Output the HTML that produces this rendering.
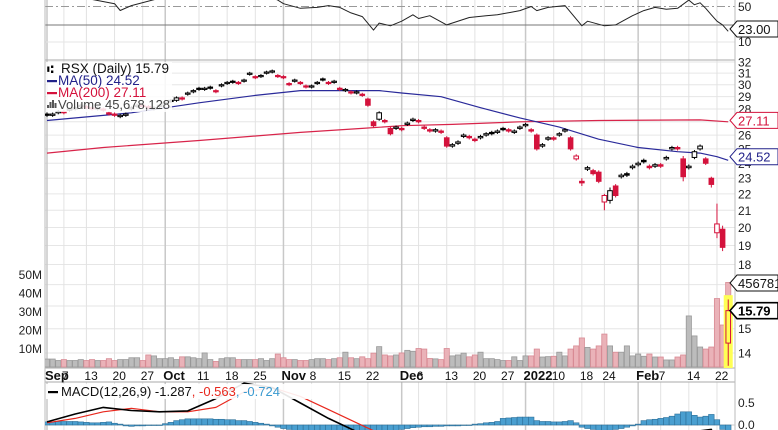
<!DOCTYPE html>
<html><head><meta charset="utf-8">
<style>
html,body{margin:0;padding:0;background:#fff;width:778px;height:430px;overflow:hidden;}
svg{display:block;font-family:"Liberation Sans",sans-serif;}
</style></head>
<body>
<svg id="chart" width="778" height="430" viewBox="0 0 778 430">
<defs>
<clipPath id="cpMain"><rect x="45" y="60" width="690" height="308"/></clipPath>
<clipPath id="cpRsi"><rect x="45" y="0" width="690" height="60"/></clipPath>
<clipPath id="cpMacd"><rect x="45" y="382" width="690" height="48"/></clipPath>
<clipPath id="cpAll"><rect x="0" y="0" width="778" height="430"/></clipPath>
</defs>
<g clip-path="url(#cpAll)">
<g id="grid"></g>
<g id="vol" clip-path="url(#cpMain)"></g>
<g id="ma" clip-path="url(#cpMain)"></g>
<g id="candles" clip-path="url(#cpMain)"></g>
<g id="rsi" clip-path="url(#cpRsi)"></g>
<g id="macd" clip-path="url(#cpMacd)"></g>
<g id="axes"></g>
<g id="legend"></g>
</g>
</svg>
<script>
// ---- data ----
const dateLabels = ["Sep","7","13","20","27","Oct","11","18","25","Nov","8","15","22","Dec","6","13","20","27","2022","10","18","24","Feb","7","14","22"];
const dateIdx = [0,3,7,12,17,21,27,32,37,42,47,52,57,63,66,71,76,81,85,90,95,99,105,109,114,119];
const monthFlags = [1,0,0,0,0,1,0,0,0,1,0,0,0,1,0,0,0,0,1,0,0,0,1,0,0,0];
const closes = [27.5,27.6,27.8,27.7,28.0,28.1,28.2,28.1,28.0,28.0,
27.9,27.6,27.5,27.5,27.6,28.1,28.3,28.2,28.1,28.1,
28.3,28.5,28.6,28.9,28.8,29.3,29.5,29.6,29.7,29.7,
29.4,30.0,30.2,30.2,30.1,30.4,31.0,30.6,30.8,31.1,
31.2,30.7,30.6,30.0,30.4,30.1,29.8,29.9,30.2,30.4,
30.1,30.3,29.6,29.6,29.3,29.4,29.1,28.3,26.7,27.7,
27.0,26.1,26.6,26.4,26.9,27.2,27.0,26.5,26.3,26.4,
26.2,25.2,25.3,25.5,26.0,25.8,25.6,25.9,26.1,26.1,
26.3,26.4,26.3,26.3,26.6,26.8,26.3,25.0,25.3,25.8,
25.7,26.1,26.4,25.0,24.5,22.7,23.7,23.3,22.8,21.9,
22.2,21.9,23.2,23.2,23.8,24.0,24.1,23.7,23.9,23.8,
24.4,25.1,25.0,23.1,23.8,24.8,25.2,24.0,22.6,20.2,
18.9,15.79];
const opens = [27.6,27.5,27.7,27.8,27.9,28.0,28.3,28.2,28.1,28.1,
28.0,27.7,27.6,27.4,27.5,28.0,28.2,28.3,28.2,28.0,
28.2,28.4,28.7,28.7,28.9,29.2,29.4,29.7,29.6,29.8,
29.5,29.9,30.1,30.3,30.2,30.3,30.9,30.7,30.7,31.0,
31.1,30.8,30.7,30.1,30.3,30.2,29.9,29.8,30.1,30.5,
30.2,30.2,29.7,29.5,29.4,29.3,29.2,28.8,27.0,27.2,
27.1,26.5,26.5,26.5,26.8,27.1,27.1,26.6,26.4,26.3,
26.3,25.8,25.2,25.4,25.9,25.9,25.7,25.8,26.0,26.2,
26.2,26.5,26.4,26.2,26.5,26.7,26.4,26.0,25.2,25.7,
25.8,26.0,26.3,25.8,24.3,22.8,23.6,23.5,23.4,21.5,
21.6,22.5,23.1,23.3,23.7,23.9,24.2,23.8,23.8,23.9,
24.3,25.0,25.1,24.3,23.7,24.4,25.0,24.3,23.0,19.7,
19.9,14.4];
const wickIdx = [95,99,100,113,118,119,120,121];
const wickHigh = [23.0,22.0,22.4,24.5,23.1,21.4,20.1,16.3];
const wickLow = [22.5,21.0,21.4,22.8,22.4,19.4,18.7,13.5];
const volumes = [4.3,4.3,3.5,4,3.5,3.5,4,3.5,4,3.5,3.5,4.5,3.5,4,4,5,5,3.5,6.5,6,4.5,
4.5,5,4,5.5,5.5,5,4.5,7.6,4,3,4.5,5,5,4,4,4,4,4.5,3.5,4.5,7,
5,4,4,3.5,3.5,4,4.5,4.5,4,4.5,5,8,5,4.5,5.5,4.5,7.5,11,6.5,6,6.5,
7.6,9,8.5,10,9.7,4.6,4.4,4,10,6,6.5,7.5,5.5,6.5,8,4.5,4.5,4,3.5,3.5,5.5,3.5,
6,6,9.7,5.4,5.6,5.8,8,6,9.7,11.4,15.7,10.6,9.7,11.4,17.8,11.4,8,8,11.4,6,
7,5.8,7,5.4,5.4,3.8,3.8,5.4,6.5,27.6,16.8,10.8,9.7,10.8,37,22.7,45.7];
const ma50Idx = [0,15,27,37,45,50,56,59,63,70,77,84,91,98,105,112,116,119,121];
const ma50Val = [27.1,27.7,28.5,29.1,29.5,29.5,29.5,29.5,29.3,29.0,28.1,27.3,26.6,25.7,25.1,24.8,24.7,24.45,24.2];
const ma200Idx = [0,10,27,45,56,63,72,84,98,116,121];
const ma200Val = [24.7,25.1,25.6,26.2,26.5,26.7,26.8,27.0,27.1,27.15,27.0];
const rsiIdx = [0,6,12,13,15,20,27,36,41,42,45,48,50,52,54,56,58,59,61,63,65,66,68,71,75,78,80,84,86,87,89,92,95,96,99,101,104,106,108,110,112,114,115,116,117,118,119,120,121];
const rsiVal = [62,60,53,45.6,51,59,65,70,57,53,48,49,51,49,43,39,24.4,32,29,34,41,37,40,30,38,40,41,45.5,50,45.5,49,51,29,34,29,30,40,45.5,49,47,48,57,52,54,48,41,34,30,23];
const macdIdx = [0,5,10,15,20,25,30,35,40,45,50,55,60,65,70,75,80,85,90,95,100,105,110,115,118,120,121];
const macdVal = [0.07,0.25,0.4,0.33,0.3,0.32,0.6,0.95,0.85,0.5,0.15,-0.15,-0.4,-0.5,-0.6,-0.5,-0.35,-0.25,-0.3,-0.5,-0.8,-0.6,-0.35,-0.15,-0.1,-0.9,-1.287];
const signalIdx = [0,5,10,15,20,25,30,35,40,45,50,55,60,65,70,75,80,85,90,95,100,105,110,115,120,121];
const signalVal = [0.05,0.15,0.3,0.38,0.3,0.3,0.4,0.75,0.85,0.65,0.35,0.05,-0.25,-0.45,-0.55,-0.55,-0.45,-0.38,-0.35,-0.45,-0.65,-0.68,-0.55,-0.4,-0.5,-0.563];
const histVal = [.07,.07,.08,.08,.08,.08,.07,.06,.05,.05,.06,.07,.04,.02,-.02,-.03,-.02,-.02,-.01,0,0,
.03,.06,.1,.12,.14,.14,.14,.14,.14,.13,.13,.12,.12,.1,.1,.08,.06,.04,.02,-.02,-.05,
-.08,-.1,-.13,-.15,-.18,-.2,-.22,-.25,-.27,-.28,-.3,-.3,-.3,-.28,-.27,-.25,-.25,-.22,-.2,-.18,-.15,
-.1,-.08,-.06,-.05,-.04,-.04,-.03,-.03,-.02,-.02,-.02,-.01,0,.02,.03,.05,.06,.08,.15,.16,.17,.18,
.18,.18,.1,.08,.08,.07,.07,.08,.1,.05,-.05,-.08,-.1,-.12,-.15,-.12,-.1,-.08,-.05,-.02,
.02,.1,.12,.13,.15,.17,.2,.25,.3,.3,.22,.18,.2,.24,.12,-.1,-.3];
const priceTicks = [32,31,30,29,28,27,26,25,24,23,22,21,20,19,18,17,16,15,14];
const volTicks = [10,20,30,40,50];
const volTickLabels = ["10M","20M","30M","40M","50M"];

// ---- scales ----
const NS = "http://www.w3.org/2000/svg";
const X = i => 47 + i * 5.63;
const YP = p => 62 + (Math.log(32) - Math.log(p)) * 352;
const YV = v => 367 - v * 1.85;
const YR = v => 6.5 + (50 - v) * 0.92;
const YM = v => 425 - v * 44;
function mk(tag, attrs, parent) {
  const e = document.createElementNS(NS, tag);
  for (const k in attrs) e.setAttribute(k, attrs[k]);
  parent.appendChild(e);
  return e;
}
const G = id => document.getElementById(id);

// ---- grid ----
const grid = G("grid");
priceTicks.forEach(p => {
  const l = mk("line", {x1:45, x2:735, y1:YP(p), y2:YP(p), stroke:"#e6e6e6", "stroke-width":1}, grid);
  
  
});
dateIdx.forEach((di, k) => {
  const c = monthFlags[k] ? "#c8c8c8" : "#e2e2e2";
  [[0,60],[60,368],[382,430]].forEach(r => {
    const l = mk("line", {x1:X(di), x2:X(di), y1:r[0], y2:r[1], stroke:c, "stroke-width":monthFlags[k]?1.5:1}, grid);
    
    
  });
});
mk("line", {x1:45,x2:735,y1:42,y2:42,stroke:"#e6e6e6"}, grid);
mk("line", {x1:45,x2:735,y1:6.5,y2:6.5,stroke:"#999","stroke-dasharray":"8,3,2,3"}, grid);
mk("line", {x1:45,x2:735,y1:25,y2:25,stroke:"#777"}, grid);
[[60],[368],[382]].forEach(r => {
  const l = mk("line", {x1:45, x2:735, y1:r[0], y2:r[0], stroke:"#aaa"}, grid);
  
  
});
[45,735].forEach(x => {
  const l = mk("line", {x1:x, x2:x, y1:0, y2:430, stroke:"#bbb"}, grid);
  
  
});
mk("line", {x1:45,x2:735,y1:425,y2:425,stroke:"#ccc"}, grid);

// ---- volume ----
const vol = G("vol");
volumes.forEach((v, i) => {
  const down = i > 0 && closes[i] < closes[i-1];
  const r = mk("rect", {x:X(i)-2.6, y:YV(v), width:5.2, height:367-YV(v),
    fill: down ? "#eab2b8" : "#bcbcbc", stroke: down ? "#d88a94" : "#999", "stroke-width":0.8}, vol);
  
  
});

// ---- moving averages ----
const ma = G("ma");
function line(idx, vals, yf, color, w, parent, name) {
  const d = idx.map((ii, k) => (k ? "L" : "M") + X(ii).toFixed(1) + "," + yf(vals[k]).toFixed(1)).join(" ");
  const p = mk("path", {d, fill:"none", stroke:color, "stroke-width":w, "stroke-linejoin":"round"}, parent);
  
  
}
line(ma200Idx, ma200Val, YP, "#d8244a", 1.2, ma, "ma200-line");
line(ma50Idx, ma50Val, YP, "#2a2a9a", 1.2, ma, "ma50-line");

// ---- candles ----
const cg = G("candles");
const last = closes.length - 1;
const hl = mk("rect", {x:X(last)-4.5, y:YP(16.5), width:9, height:YP(13.3)-YP(16.5), fill:"#ffff55"}, cg);


closes.forEach((c, i) => {
  const o = opens[i];
  const w = wickIdx.indexOf(i);
  const hi = w >= 0 ? wickHigh[w] : Math.max(o, c) + 0.12;
  const lo = w >= 0 ? wickLow[w] : Math.min(o, c) - 0.12;
  const down = i > 0 && c < closes[i-1];
  const col = down ? "#d4123c" : "#000";
  const x = X(i);
  const wk = mk("line", {x1:x, x2:x, y1:YP(hi), y2:YP(lo), stroke:col, "stroke-width":1}, cg);
  
  
  const top = YP(Math.max(o, c)), bot = YP(Math.min(o, c));
  const hollow = c > o;
  const b = mk("rect", {x:x-2.3, y:top, width:4.6, height:Math.max(bot-top, 1.2),
    fill: hollow ? (i === last ? "#ffff55" : "#fff") : col, stroke:col, "stroke-width":1}, cg);
  
  
});

// ---- RSI ----
line(rsiIdx, rsiVal, YR, "#222", 1, G("rsi"), "rsi-line");

// ---- MACD ----
const mg = G("macd");
histVal.forEach((h, i) => {
  const y0 = YM(0), y1 = YM(h);
  const r = mk("rect", {x:X(i)-2.8, y:Math.min(y0,y1), width:5.6, height:Math.max(Math.abs(y1-y0),0.5),
    fill:"#4a9fd0", stroke:"#2c6f98", "stroke-width":0.6}, mg);
  
  
});
line(signalIdx, signalVal, YM, "#e8281e", 1.2, mg, "macd-signal-line");
line(macdIdx, macdVal, YM, "#000", 1.6, mg, "macd-line");

// ---- axes ----
const ax = G("axes");
function txt(x, y, s, attrs, parent, name) {
  const t = mk("text", Object.assign({x, y, "font-size":12, fill:"#222"}, attrs), parent);
  t.textContent = s;
  
  
  return t;
}
priceTicks.forEach(p => txt(738, YP(p)+4.5, String(p), {}, ax, "price-tick-label"));
volTicks.forEach((v, k) => txt(42, YV(v)+4.5, volTickLabels[k], {"text-anchor":"end"}, ax, "volume-tick-label"));
txt(738, 46, "10", {}, ax, "rsi-tick-label");
txt(738, 11, "50", {}, ax, "rsi-tick-label");
txt(738, 407, "0.5", {}, ax, "macd-tick-label");
txt(738, 429, "0.0", {}, ax, "macd-tick-label");
dateIdx.forEach((di, k) => {
  txt(X(di)-2, 380, dateLabels[k], {"font-weight": monthFlags[k] ? "bold" : "normal", "font-size": monthFlags[k] ? 13 : 12, fill:"#111"}, ax, "date-label");
});
function tag(y, s, color, bold, name) {
  const g = mk("g", {}, ax);
  
  
  mk("polygon", {points:`730,${y} 737,${y-8} 778,${y-8} 778,${y+8} 737,${y+8}`, fill:"#fff", stroke:color, "stroke-width": bold ? 1.6 : 1}, g);
  const t = mk("text", {x:738, y:y+5, "font-size":13, fill:color, "font-weight": bold ? "bold" : "normal"}, g);
  t.textContent = s;
}
tag(29, "23.00", "#111", false, "rsi-value-tag");
tag(YP(27.11), "27.11", "#d4123c", false, "ma200-value-tag");
tag(YP(24.52)+1, "24.52", "#22228a", false, "ma50-value-tag");
tag(283, "45678128", "#111", false, "volume-value-tag");
tag(YP(15.79), "15.79", "#000", true, "last-price-tag");

// ---- legend ----
const lg = G("legend");
const bg = mk("rect", {x:46, y:62, width:126, height:50, fill:"#fff", opacity:0.85}, lg);


txt(47, 73, "⑆", {"font-size":11, fill:"#000"}, lg, "legend-candle-icon");
txt(61, 73, "RSX (Daily) 15.79", {"font-size":13.5, fill:"#111"}, lg, "legend-price");
mk("rect", {x:47, y:80, width:10, height:2.2, fill:"#22228a"}, lg);
txt(58, 85, "MA(50) 24.52", {"font-size":13.5, fill:"#22228a"}, lg, "legend-ma50");
mk("rect", {x:47, y:92, width:10, height:2.2, fill:"#d4123c"}, lg);
txt(58, 97, "MA(200) 27.11", {"font-size":13.5, fill:"#d4123c"}, lg, "legend-ma200");
[[47,3],[49.5,6],[52,8],[54.5,5]].forEach(b => {
  const r = mk("rect", {x:b[0], y:108-b[1], width:2, height:b[1], fill:"#555"}, lg);
  
  
});
txt(58, 109, "Volume 45,678,128", {"font-size":13, fill:"#444"}, lg, "legend-volume");
const mb = mk("rect", {x:46, y:384, width:270, height:15, fill:"#fff", opacity:0.9}, lg);


mk("rect", {x:48, y:391, width:10, height:2.2, fill:"#000"}, lg);
const mt = mk("text", {x:61, y:396, "font-size":13, fill:"#111"}, lg);


mt.innerHTML = 'MACD(12,26,9) -1.287<tspan fill="#e8281e">, -0.563</tspan><tspan fill="#3a9ad0">, -0.724</tspan>';
</script>
</body></html>
